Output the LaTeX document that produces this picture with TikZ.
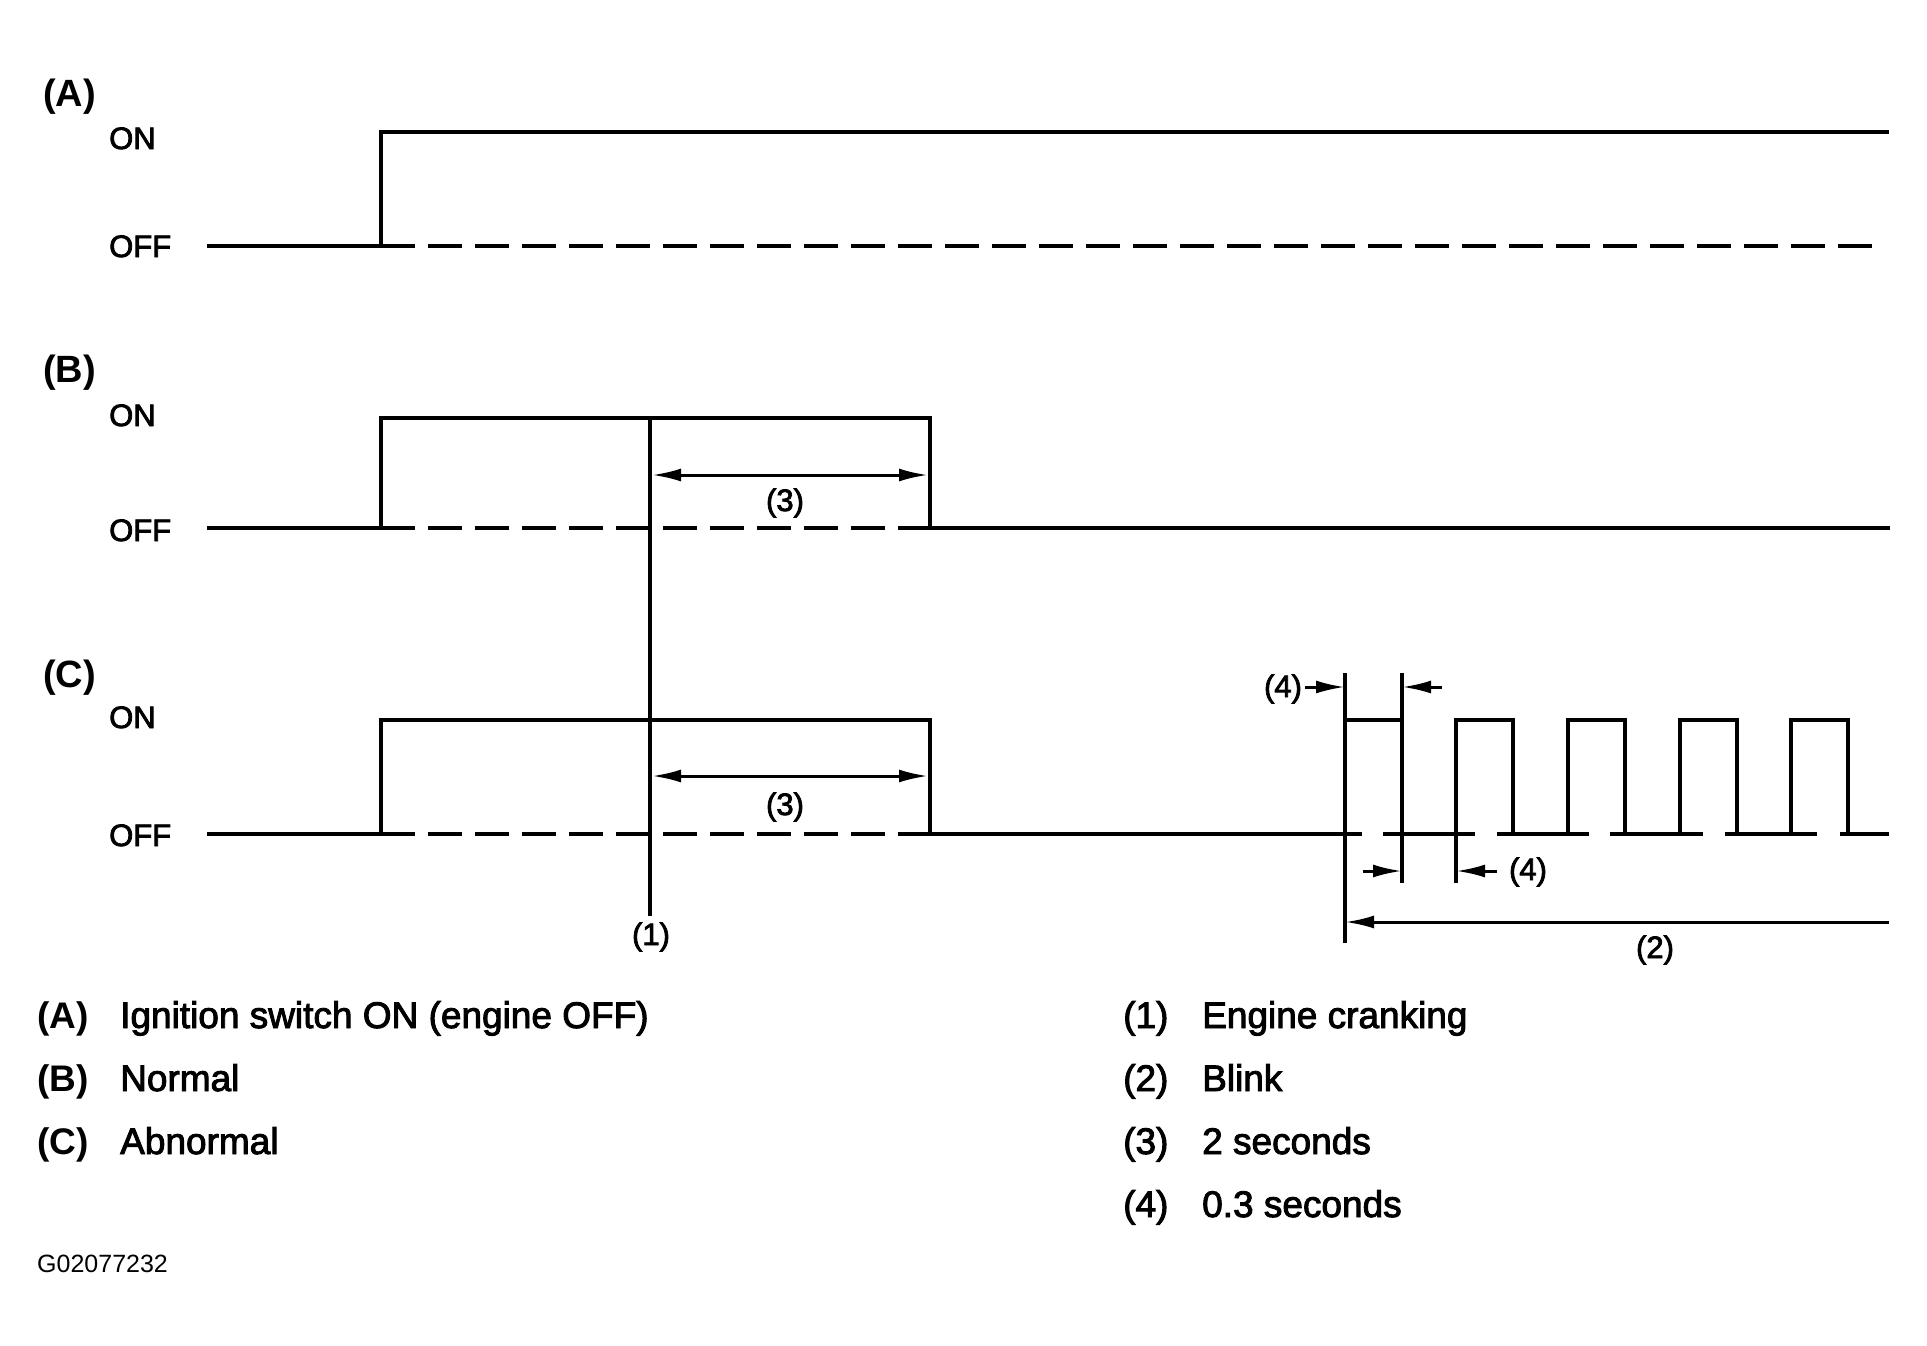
\documentclass[tikz,border=0pt]{standalone}
\usepackage{fontspec}
\setmainfont{Liberation Sans}
\newfontfamily\medfont[FakeBold=2.5]{Liberation Sans}
\usetikzlibrary{arrows.meta}
\begin{document}
\begin{tikzpicture}[x=1pt,y=-1pt,
  sig/.style={line width=3.6pt, line join=miter},
  dsh/.style={line width=3.2pt, dash pattern=on 34pt off 13pt},
  ext/.style={line width=3.4pt},
  tipR/.style={line width=3pt, -{Latex[length=29pt,width=13pt]}},
  tipLR/.style={line width=3pt, {Latex[length=29pt,width=13pt]}-{Latex[length=29pt,width=13pt]}},
  rowlab/.style={font=\fontsize{38}{40}\selectfont\bfseries, anchor=base west, inner sep=0pt},
  lvl/.style={font=\fontsize{31}{33}\selectfont\medfont, anchor=base west, inner sep=0pt},
  num/.style={font=\fontsize{31}{33}\selectfont\medfont, inner sep=0pt},
  legk/.style={font=\fontsize{37}{40}\selectfont\bfseries, anchor=base west, inner sep=0pt},
  legn/.style={font=\fontsize{37}{40}\selectfont\medfont, anchor=base west, inner sep=0pt},
]
\useasboundingbox (0,0) rectangle (1927,1346);

% ---- row labels
\node[rowlab] (lA) at (43,106) {(A)};
\node[lvl] (onA) at (109,149) {ON};
\node[lvl] (offA) at (109,257) {OFF};
\node[rowlab] (lB) at (43,382) {(B)};
\node[lvl] (onB) at (109,426) {ON};
\node[lvl] (offB) at (109,541) {OFF};
\node[rowlab] (lC) at (43,687) {(C)};
\node[lvl] (onC) at (109,728) {ON};
\node[lvl] (offC) at (109,846) {OFF};

% ---- signal A
\draw[sig] (207,246) -- (381,246) -- (381,132) -- (1889,132);
\draw[dsh] (381,246) -- (1880,246);

% ---- signal B
\draw[sig] (207,528) -- (381,528) -- (381,418) -- (930,418) -- (930,528) -- (1890,528);
\draw[dsh] (381,528) -- (930,528);

% ---- signal C
\draw[sig] (207,834) -- (381,834) -- (381,720) -- (930,720) -- (930,834) -- (1362,834);
\draw[dsh] (381,834) -- (930,834);
\foreach \a/\b in {1383/1475,1497/1589,1610/1703,1725/1817,1840/1889}
  \draw[sig] (\a,834) -- (\b,834);
\draw[sig] (1345,720) -- (1402,720);
\foreach \r in {1456,1568,1680,1791}
  \draw[sig] (\r,834) -- (\r,720) -- (\r+57,720) -- (\r+57,834);

% ---- extension lines
\draw[ext] (650,418) -- (650,916);
\draw[ext] (1345,673) -- (1345,943);
\draw[ext] (1402,673) -- (1402,883);
\draw[ext] (1456,720) -- (1456,883);

% ---- dimension arrows
\coordinate (b3l) at (652,475); \coordinate (b3r) at (928,475);
\coordinate (c3l) at (652,776); \coordinate (c3r) at (928,776);
\draw[tipLR] (b3l) -- (b3r);
\draw[tipLR] (c3l) -- (c3r);
\node[num] (n3b) at (785,503) {(3)};
\node[num] (n3c) at (785,807) {(3)};
\node[num] (n1) at (651,937) {(1)};

\node[num] (n4t) at (1283,689) {(4)};
\coordinate (t4a) at (1305,687); \coordinate (t4b) at (1345,687);
\coordinate (t4c) at (1442,687); \coordinate (t4d) at (1402,687);
\draw[tipR] (t4a) -- (t4b);
\draw[tipR] (t4c) -- (t4d);

\coordinate (b4a) at (1363,871); \coordinate (b4b) at (1402,871);
\coordinate (b4c) at (1497,871); \coordinate (b4d) at (1456,871);
\draw[tipR] (b4a) -- (b4b);
\draw[tipR] (b4c) -- (b4d);
\node[num] (n4b) at (1528,872) {(4)};

\coordinate (bl2a) at (1889,922); \coordinate (bl2b) at (1345,922);
\draw[tipR] (bl2a) -- (bl2b);
\node[num] (n2) at (1655,950) {(2)};

% ---- legend
\node[legk] (kA) at (37,1028) {(A)};
\node[legn] (tA) at (120,1028) {Ignition switch ON (engine OFF)};
\node[legk] (kB) at (37,1091) {(B)};
\node[legn] (tB) at (120,1091) {Normal};
\node[legk] (kC) at (37,1154) {(C)};
\node[legn] (tC) at (120,1154) {Abnormal};

\node[legn] (k1) at (1123,1028) {(1)};
\node[legn] (t1) at (1202,1028) {Engine cranking};
\node[legn] (k2) at (1123,1091) {(2)};
\node[legn] (t2) at (1202,1091) {Blink};
\node[legn] (k3) at (1123,1154) {(3)};
\node[legn] (t3) at (1202,1154) {2 seconds};
\node[legn] (k4) at (1123,1217) {(4)};
\node[legn] (t4) at (1202,1217) {0.3 seconds};

\node[font=\fontsize{25}{27}\selectfont, anchor=base west, inner sep=0pt] (code) at (37,1272) {G02077232};
\end{tikzpicture}
\end{document}
